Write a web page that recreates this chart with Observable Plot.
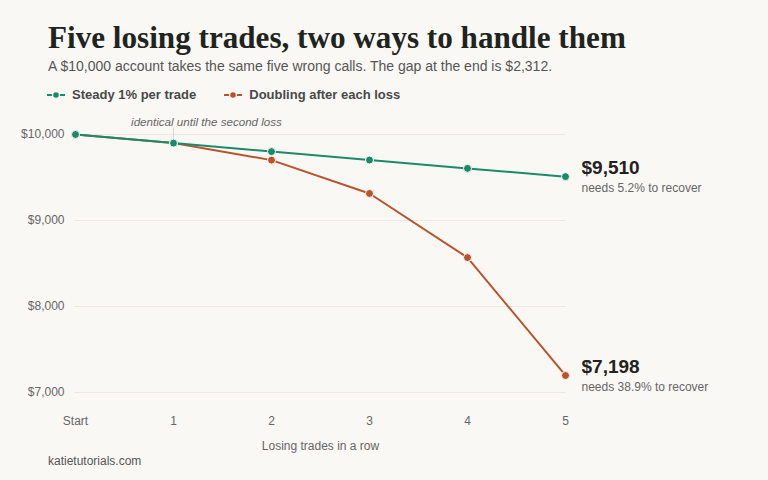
<!DOCTYPE html>
<html>
<head>
<meta charset="utf-8">
<script src="https://cdn.jsdelivr.net/npm/d3@7"></script>
<script src="https://cdn.jsdelivr.net/npm/@observablehq/plot@0.6"></script>
<style>
  html, body { margin: 0; padding: 0; background: #faf8f4; }
  body { width: 768px; height: 480px; position: relative; overflow: hidden; font-family: "Liberation Sans", Arial, sans-serif; }
  #title { position: absolute; left: 48px; top: 20px; font-family: "Liberation Serif", serif; font-weight: bold; font-size: 29px; color: #1e2420; white-space: nowrap; }
  #subtitle { position: absolute; left: 48px; top: 58px; font-size: 14px; color: #555; white-space: nowrap; }
  #legend { position: absolute; left: 47px; top: 87px; font-size: 13px; font-weight: bold; color: #484848; display: flex; gap: 28px; white-space: nowrap; }
  #legend span.item { display: inline-flex; align-items: center; gap: 7px; }
  #chart { position: absolute; left: 0; top: 110px; }
  #caption { position: absolute; left: 48px; top: 454px; font-size: 12px; color: #555; }
</style>
</head>
<body>
<div id="title"></div>
<div id="subtitle"></div>
<div id="legend"></div>
<div id="chart"></div>
<div id="caption"></div>
<script>
const titleText = "Five losing trades, two ways to handle them";
const subtitleText = "A $10,000 account takes the same five wrong calls. The gap at the end is $2,312.";
const captionText = "katietutorials.com";
const xLabel = "Losing trades in a row";

const steps = ["Start", "1", "2", "3", "4", "5"];
const seriesNames = ["Steady 1% per trade", "Doubling after each loss"];
const steady = [10000, 9900, 9801, 9703, 9606, 9510];
const doubling = [10000, 9900, 9702, 9314, 8569, 7198];
const colors = ["#1b8a6b", "#b8542b"];
const endNotes = ["needs 5.2% to recover", "needs 38.9% to recover"];
const yTicks = [7000, 8000, 9000, 10000];
const annotationText = "identical until the second loss";
const annotationStep = "1";

const titleEl = document.getElementById("title");
titleEl.textContent = titleText;
// fit title to the reference width
const targetW = 578;
const w0 = titleEl.getBoundingClientRect().width;
titleEl.style.fontSize = (29 * targetW / w0).toFixed(2) + "px";

document.getElementById("subtitle").textContent = subtitleText;
document.getElementById("caption").textContent = captionText;

// legend
const legend = document.getElementById("legend");
seriesNames.forEach((name, i) => {
  const item = document.createElement("span");
  item.className = "item";
  item.innerHTML = `<svg width="18" height="8"><line x1="0" x2="5" y1="4" y2="4" stroke="${colors[i]}" stroke-width="2"/><line x1="13" x2="18" y1="4" y2="4" stroke="${colors[i]}" stroke-width="2"/><circle cx="9" cy="4" r="2.8" fill="${colors[i]}"/></svg>`;
  const t = document.createElement("span");
  t.textContent = name;
  item.appendChild(t);
  legend.appendChild(item);
});

const rows = [];
[steady, doubling].forEach((vals, si) => {
  vals.forEach((v, i) => rows.push({series: seriesNames[si], step: steps[i], value: v}));
});
const drawOrder = [seriesNames[1], seriesNames[0]];
const ordered = drawOrder.flatMap(s => rows.filter(r => r.series === s));
const ends = seriesNames.map((s, i) => ({series: s, step: steps[steps.length - 1], value: [steady, doubling][i].at(-1), note: endNotes[i]}));
const fmt = d3.format(",");

const plot = Plot.plot({
  width: 768,
  height: 360,
  marginLeft: 74,
  marginRight: 202,
  marginTop: 24,
  marginBottom: 78,
  style: {background: "transparent", fontFamily: "'Liberation Sans', Arial, sans-serif", fontSize: "12px", color: "#666"},
  x: {type: "point", domain: steps, padding: 0},
  y: {domain: [7000, 10000]},
  color: {domain: seriesNames, range: colors},
  marks: [
    Plot.gridY(yTicks, {stroke: "#ebe8e1", strokeOpacity: 1}),
    Plot.axisY(yTicks, {tickSize: 0, tickPadding: 10, tickFormat: d => "$" + fmt(d), label: null, fill: "#666", fontSize: 12}),
    Plot.axisX({tickSize: 0, tickPadding: 24, label: xLabel, labelAnchor: "center", labelArrow: "none", labelOffset: 57, fill: "#666", fontSize: 12}),
    Plot.ruleX([annotationStep], {y1: 9925, y2: 10075, stroke: "#d8d4cc", strokeWidth: 1}),
    Plot.text([annotationText], {x: () => annotationStep, y: () => 10000, dy: -12, dx: 33, textAnchor: "middle", fontStyle: "italic", fontSize: 11.6, fill: "#666"}),
    Plot.line(ordered, {x: "step", y: "value", z: "series", stroke: "series", strokeWidth: 2}),
    Plot.dot(ordered, {x: "step", y: "value", fill: "series", r: 4, stroke: "#faf8f4", strokeWidth: 1}),
    Plot.text(ends, {x: "step", y: "value", text: d => "$" + fmt(d.value), dx: 16, dy: -9, textAnchor: "start", fontWeight: "bold", fontSize: 19, fill: "#222"}),
    Plot.text(ends, {x: "step", y: "value", text: "note", dx: 16, dy: 11.5, textAnchor: "start", fontSize: 12, fill: "#666"})
  ]
});
document.getElementById("chart").appendChild(plot);
</script>
</body>
</html>
